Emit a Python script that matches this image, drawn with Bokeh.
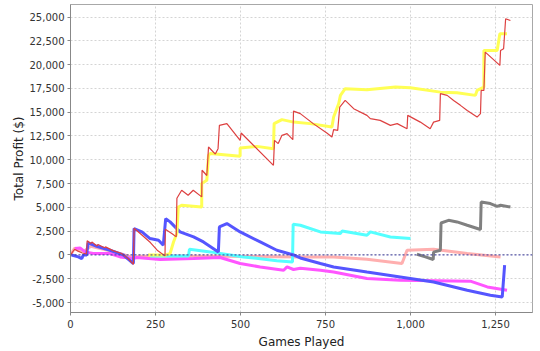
from bokeh.plotting import figure
from bokeh.models import FixedTicker, NumeralTickFormatter, Range1d, Span
from bokeh.embed import file_html
from bokeh.resources import INLINE

# ---- data (games played, total profit $) ----
red_x = [0, 12, 22, 35, 47, 49, 60, 63, 78, 81, 100, 103, 125, 150, 170, 185,
         187, 210, 235, 255, 278, 279, 300, 311, 313, 327, 346, 361, 386,
         387, 401, 406, 426, 434, 438, 460, 499, 502, 597, 600, 611, 622, 637, 654,
         656, 676, 714, 754, 769, 774, 786, 792, 808, 833, 872, 882, 911, 941, 961,
         990, 992, 1029, 1058, 1068, 1086, 1088, 1108, 1127, 1147, 1167, 1196, 1206,
         1208, 1216, 1220, 1263, 1265, 1274, 1280, 1294]
red_y = [0, 600, 400, 200, 100, 1500, 1200, 1350, 950, 1100, 750, 850, 450, 150, -400, -1000,
         2800, 2100, 1300, 500, -100, 2700, 2200, 1900, 5950, 6800, 6270, 6800, 6100,
         8900, 8350, 11340, 10600, 11170, 13620, 13800, 12040, 12810, 9420, 12040, 11700, 12570, 12750, 12120,
         15120, 14850, 13800, 12810, 12390, 13170, 13090, 15540, 16240, 15370, 14670, 14320, 14140, 13620, 13800,
         13270, 14670, 13960, 13270, 13960, 14140, 16950, 16770, 16240, 15720, 15190, 14490, 14850,
         17290, 17290, 21320, 19920, 21490, 21670, 24820, 24640]

yellow_x = [228, 281, 293, 303, 313, 317, 327, 386, 386, 401, 406, 411, 499, 499, 548, 597, 599, 622,
            656, 705, 769, 774, 789, 794, 808, 872, 956, 1000, 1088, 1137, 1191, 1196, 1216, 1216,
            1255, 1263, 1284]
yellow_y = [0, 0, 150, 1360, 2280, 5040, 5220, 5040, 7500, 7840, 10470, 10650, 10360, 11240, 11410, 11170, 13800, 14220,
            13960, 13800, 13440, 14490, 15900, 16770, 17470, 17370, 17640, 17570, 17110, 17050, 16770, 17290, 17640, 21490,
            21490, 23250, 23250]

blue_x = [3, 23, 33, 38, 48, 49, 52, 77, 116, 155, 185, 187, 210, 234, 259, 273, 280, 293, 322, 362,
          391, 435, 438, 460, 499, 558, 607, 656, 676, 735, 774, 872, 970, 1068, 1167, 1235, 1270, 1277]
blue_y = [0, -200, -380, 0, 0, 500, 1260, 910, 490, 0, -900, 2770, 2420, 1720, 1540, 1020, 3820, 3470, 2420, 1890,
          1370, 320, 2940, 3300, 2420, 1370, 490, 0, -320, -900, -1260, -1790, -2310, -2840, -3710, -4230, -4410, -1080]

cyan_x = [234, 347, 350, 411, 509, 607, 653, 655, 676, 735, 794, 799, 872, 882, 941, 1000]
cyan_y = [-100, -100, 600, 320, -210, -600, -750, 3220, 3120, 2420, 2250, 2520, 2070, 2420, 1890, 1720]

magenta_x = [13, 28, 43, 67, 116, 146, 185, 195, 264, 362, 440, 499, 558, 627, 637, 656, 676,
             735, 774, 872, 970, 1176, 1226, 1284]
magenta_y = [670, 740, 320, 150, 150, -210, -380, -270, -480, -380, -270, -900, -1260, -1610, -1260, -1530, -1400,
             -1610, -1790, -2480, -2660, -2760, -3360, -3710]

pink_x = [0, 12, 40, 60, 110, 150, 185, 200, 440, 676, 774, 872, 975, 990, 1068, 1167, 1265]
pink_y = [0, 700, 400, 900, 500, 100, -300, -150, -150, -210, -210, -450, -900, 490, 600, 150, -210]

gray_x = [1019, 1044, 1067, 1068, 1088, 1090, 1112, 1137, 1167, 1206, 1208, 1235, 1255, 1265, 1294]
gray_y = [70, -210, -480, 300, 490, 3360, 3640, 3470, 3120, 2670, 5570, 5400, 5110, 5220, 5040]

x_ticks = [0, 250, 500, 750, 1000, 1250]
y_ticks = [-5000, -2500, 0, 2500, 5000, 7500, 10000, 12500, 15000, 17500, 20000, 22500, 25000]

p = figure(width=540, height=351, output_backend="svg", toolbar_location=None,
           x_range=Range1d(0, 1359), y_range=Range1d(-6050, 26320),
           min_border_left=70, min_border_right=8, min_border_top=4, min_border_bottom=39)
p.background_fill_color = "white"
p.border_fill_color = "white"
p.outline_line_color = "#a8a8a8"
p.outline_line_width = 1

for ax in (p.xaxis[0], p.yaxis[0]):
    ax.axis_line_color = "#888888"
    ax.major_tick_line_color = "#888888"
    ax.major_tick_out = 3
    ax.major_tick_in = 0
    ax.minor_tick_line_color = None
    ax.major_label_text_font = "DejaVu Sans"
    ax.major_label_text_font_size = "10px"
    ax.major_label_text_color = "#333333"
    ax.axis_label_text_font = "DejaVu Sans"
    ax.axis_label_text_font_size = "12px"
    ax.axis_label_text_font_style = "normal"
    ax.axis_label_text_color = "#222222"
    ax.formatter = NumeralTickFormatter(format="0,0")

p.xaxis.ticker = FixedTicker(ticks=x_ticks)
p.yaxis.ticker = FixedTicker(ticks=y_ticks)
p.xaxis.axis_label = "Games Played"
p.yaxis.axis_label = "Total Profit ($)"
p.xaxis.axis_label_standoff = 4
p.yaxis.axis_label_standoff = 1
p.xaxis.major_label_standoff = 4
p.yaxis.major_label_standoff = 3

for g in (p.xgrid[0], p.ygrid[0]):
    g.grid_line_color = "#d4d4d4"
    g.grid_line_dash = "2 2"
    g.grid_line_width = 1

p.add_layout(Span(location=0, dimension="width", line_color="#3a3aa0",
                  line_dash="2 2", line_width=1))

p.line(pink_x, pink_y, line_color="#ffafaf", line_width=3)
p.line(magenta_x, magenta_y, line_color="#ff55ff", line_width=3)
p.line(cyan_x, cyan_y, line_color="#55ffff", line_width=3)
p.line(gray_x, gray_y, line_color="#808080", line_width=3)
p.line(blue_x, blue_y, line_color="#5555ff", line_width=3)
p.line(yellow_x, yellow_y, line_color="#ffff55", line_width=3)
p.line(red_x, red_y, line_color="#dd4040", line_width=1.2)

open("out.html", "w").write(file_html(p, INLINE))
